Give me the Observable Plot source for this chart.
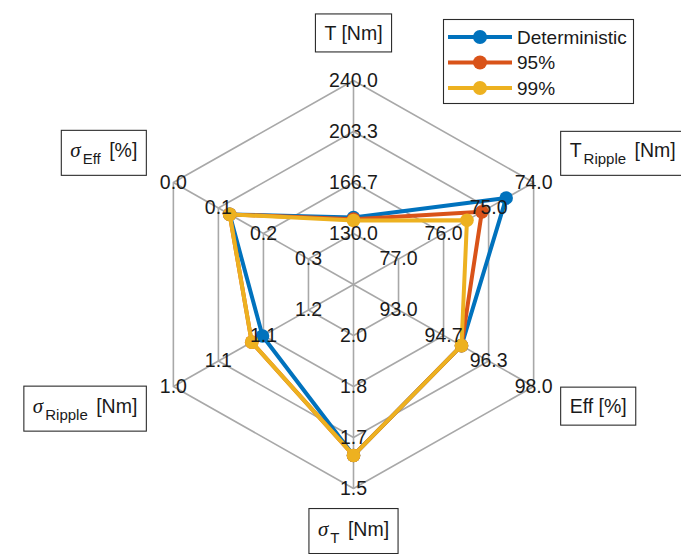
<!DOCTYPE html>
<html><head><meta charset="utf-8">
<script src="https://cdn.jsdelivr.net/npm/d3@7"></script>
<script src="https://cdn.jsdelivr.net/npm/@observablehq/plot@0.6"></script>
<style>
body{margin:0;background:#fff;}
#chart{position:relative;width:681px;height:554px;overflow:hidden;}
#chart svg{font-family:"Liberation Sans",Arial,sans-serif;}
</style>
</head><body><div id="chart"></div>
<script>
// ---- data ----
const axisNames = ["T [Nm]", "T_Ripple [Nm]", "Eff [%]", "σ_T [Nm]", "σ_Ripple [Nm]", "σ_Eff [%]"];
const axisInner = [130, 77, 93, 2.0, 1.2, 0.3];
const axisOuter = [240, 74, 98, 1.5, 1.0, 0.0];
const tickLabels = [
  ["130.0", "166.7", "203.3", "240.0"],
  ["77.0", "76.0", "75.0", "74.0"],
  ["93.0", "94.7", "96.3", "98.0"],
  ["2.0", "1.8", "1.7", "1.5"],
  ["1.2", "1.1", "1.1", "1.0"],
  ["0.3", "0.2", "0.1", "0.0"]
];
const seriesNames = ["Deterministic", "95%", "99%"];
const seriesColors = ["#0072BD", "#D95319", "#EDB120"];
const deterministic = [141.5, 74.61, 95.33, 1.608, 1.132, 0.125];
const p95 = [140.3, 75.15, 95.33, 1.608, 1.116, 0.125];
const p99 = [139.4, 75.48, 95.33, 1.608, 1.116, 0.125];
const seriesValues = [deterministic, p95, p99];

// ---- geometry helpers (data space, unit radius) ----
const N = axisNames.length;
const nLevels = tickLabels[0].length;
const ang = i => Math.PI / 2 - i * 2 * Math.PI / N;
const levelR = k => (1 + k) / nLevels;
const valueR = (v, i) => (1 + (nLevels - 1) * (v - axisInner[i]) / (axisOuter[i] - axisInner[i])) / nLevels;
const polar = (r, i) => ({x: r * Math.cos(ang(i)), y: r * Math.sin(ang(i))});

const ringPts = [];
for (let k = 0; k < nLevels; k++) for (let i = 0; i < N; i++) ringPts.push({ring: k, ...polar(levelR(k), i)});
const spokes = d3.range(N).map(i => ({...polar(1, i)}));
const tickRows = [];
tickLabels.forEach((labs, i) => labs.forEach((l, k) => tickRows.push({label: l, ...polar(levelR(k), i)})));
const labelR = 1.2;
const axisRows = axisNames.map((name, i) => {
  const p = polar(labelR, i);
  const c = Math.cos(ang(i)), s = Math.sin(ang(i));
  const side = Math.abs(c) < 1e-6 ? "middle" : (c > 0 ? "start" : "end");
  const dy = s > 0.99 ? -6 : (s > 0 ? -11 : 0);
  return {name, ...p, side, dy};
});

const dataMarks = [];
seriesNames.forEach((s, si) => {
  const rows = seriesValues[si].map((v, i) => ({series: s, ...polar(valueR(v, i), i)}));
  dataMarks.push(Plot.line(rows, {x: "x", y: "y", stroke: "series", strokeWidth: 4, curve: "linear-closed", strokeLinejoin: "round"}));
  dataMarks.push(Plot.dot(rows, {x: "x", y: "y", fill: "series", r: 6.8, stroke: "none"}));
});

const W = 681, H = 554, cx = 353, cy = 284, sx = 208, sy = 204;
const plot = Plot.plot({
  width: W, height: H, margin: 0,
  x: {domain: [(0 - cx) / sx, (W - cx) / sx], range: [0, W], axis: null},
  y: {domain: [(cy - H) / sy, cy / sy], range: [H, 0], axis: null},
  color: {domain: seriesNames, range: seriesColors},
  style: {fontFamily: '"Liberation Sans", Arial, sans-serif', background: "#fff"},
  marks: [
    Plot.line(ringPts, {x: "x", y: "y", z: "ring", curve: "linear-closed", stroke: "#a8a8a8", strokeWidth: 1.6}),
    Plot.link(spokes, {x1: () => 0, y1: () => 0, x2: "x", y2: "y", stroke: "#a8a8a8", strokeWidth: 1.6}),
    ...dataMarks,
    Plot.text(tickRows, {x: "x", y: "y", text: "label", fontSize: 19.5, fill: "#1a1a1a"}),
    ...axisRows.map(d => Plot.text([d], {
      x: "x", y: "y", text: "name", textAnchor: d.side, dy: d.dy, fontSize: 19.5, fill: "#1a1a1a"
    }))
  ]
});
document.getElementById("chart").appendChild(plot);

// ---- axis label boxes with TeX-like subscripts ----
const svg = d3.select(plot);
svg.selectAll("text").filter(function () { return axisNames.includes(this.textContent); }).each(function () {
  const t = d3.select(this);
  const s = t.text();
  const m = s.match(/^([^_]+)_(\S+)(.*)$/);
  if (m) {
    t.text(null);
    const main = t.append("tspan").text(m[1]);
    if (m[1] === "σ") main.attr("font-family", '"Liberation Serif", "DejaVu Serif", serif').attr("font-style", "italic").attr("font-size", 21);
    t.append("tspan").text(m[2]).attr("font-size", 15).attr("dy", 7).attr("dx", 2);
    t.append("tspan").text(m[3]).attr("dy", -7).attr("dx", 3);
  }
  const b = this.getBBox();
  const r = d3.select(this.parentNode).insert("rect", () => this)
    .attr("x", b.x - 9).attr("y", b.y - 8).attr("width", b.width + 18).attr("height", b.height + 16)
    .attr("fill", "#fff").attr("stroke", "#2b2b2b").attr("stroke-width", 1.1);
  const tr = this.getAttribute("transform");
  if (tr) r.attr("transform", tr);
});

// ---- legend ----
const lg = svg.append("g").attr("text-anchor", "start");
lg.append("rect").attr("x", 443.5).attr("y", 19.5).attr("width", 190).attr("height", 84)
  .attr("fill", "#fff").attr("stroke", "#2b2b2b").attr("stroke-width", 1.1);
seriesNames.forEach((s, i) => {
  const y = 37 + i * 25.5;
  lg.append("line").attr("x1", 448).attr("x2", 512).attr("y1", y).attr("y2", y)
    .attr("stroke", seriesColors[i]).attr("stroke-width", 4);
  lg.append("circle").attr("cx", 480).attr("cy", y).attr("r", 7).attr("fill", seriesColors[i]);
  lg.append("text").attr("x", 517).attr("y", y).attr("dy", "0.35em").attr("font-size", 19)
    .attr("text-anchor", "start").attr("fill", "#1a1a1a").text(s);
});
</script>
</body></html>
